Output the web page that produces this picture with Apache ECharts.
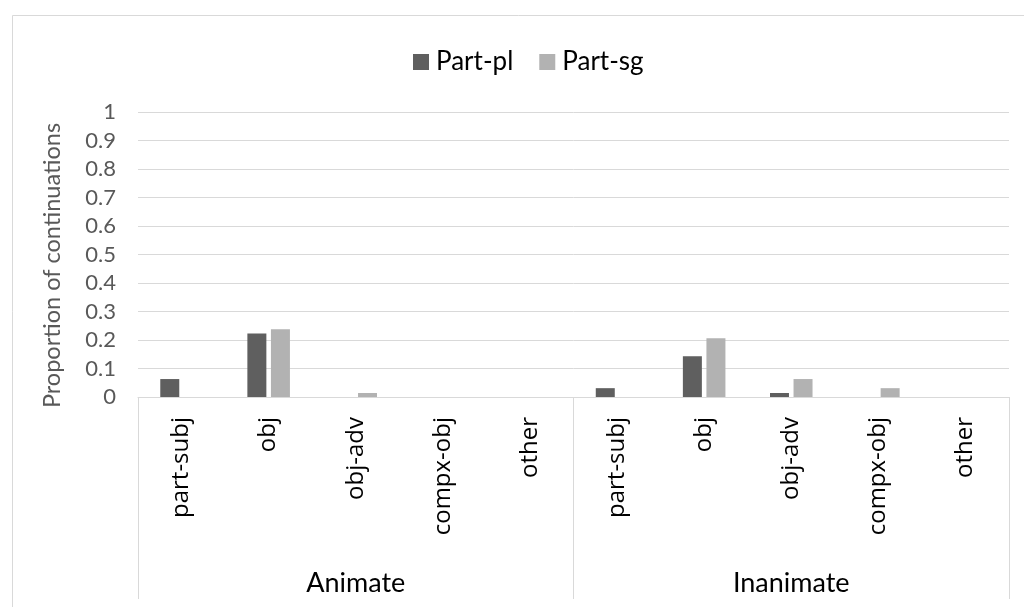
<!DOCTYPE html>
<html>
<head>
<meta charset="utf-8">
<script src="https://cdn.jsdelivr.net/npm/echarts@6/dist/echarts.min.js"></script>
<style>
html,body{margin:0;padding:0;background:#fff;}
#c{width:1024px;height:607px;}
</style>
</head>
<body>
<div id="c"></div>
<script>
const subCategories = ['part-subj','obj','obj-adv','compx-obj','other','part-subj','obj','obj-adv','compx-obj','other'];
const groups = ['Animate','Inanimate'];
const partPl = [0.063, 0.223, 0, 0, 0, 0.031, 0.143, 0.014, 0, 0];
const partSg = [0, 0.238, 0.014, 0, 0, 0, 0.206, 0.063, 0.031, 0];
const seriesNames = ['Part-pl','Part-sg'];
const yTicks = {min:0, max:1, interval:0.1};

const calibri = 'Lato, "Open Sans", sans-serif';
const chart = echarts.init(document.getElementById('c'), null, {renderer:'canvas'});
chart.setOption({
  backgroundColor:'#fff',
  animation:false,
  graphic:[{type:'rect', shape:{x:12.5,y:15.5,width:1020,height:620}, style:{fill:'none',stroke:'#d9d9d9',lineWidth:1}, silent:true}],
  legend:{
    top:44, left:408,
    icon:'rect', itemWidth:16, itemHeight:16, itemGap:26,
    textStyle:{fontFamily:calibri, fontSize:26, color:'#000', padding:[0,0,0,2]},
    data:seriesNames
  },
  grid:{left:138, right:15, top:112, bottom:210, containLabel:false},
  xAxis:[
    {type:'category', data:subCategories, position:'bottom',
     axisLine:{show:true, lineStyle:{color:'#d9d9d9', width:1}},
     axisTick:{show:false},
     axisLabel:{rotate:90, margin:20, interval:0, fontFamily:'"Open Sans", sans-serif', fontSize:24, color:'#000'},
     splitLine:{show:false}},
    {type:'category', data:groups, position:'bottom',
     axisLine:{show:false},
     axisTick:{show:true, length:202, interval:0, lineStyle:{color:'#d9d9d9', width:1}},
     axisLabel:{margin:186, interval:0, fontFamily:calibri, fontSize:27, color:'#000', verticalAlign:'middle'},
     splitLine:{show:false}}
  ],
  yAxis:{type:'value', min:yTicks.min, max:yTicks.max, interval:yTicks.interval,
    name:'Proportion of continuations', nameLocation:'middle', nameRotate:90, nameGap:74,
    nameTextStyle:{fontFamily:calibri, fontSize:23.5, color:'#595959', padding:[0,22,0,0]},
    axisLine:{show:false}, axisTick:{show:false},
    axisLabel:{margin:22, fontFamily:calibri, fontSize:22, color:'#595959'},
    splitLine:{lineStyle:{color:'#d9d9d9', width:1}}},
  series:[
    {name:seriesNames[0], type:'bar', data:partPl, barWidth:19, barGap:'24%', xAxisIndex:0,
     itemStyle:{color:'#5f5f5f'}},
    {name:seriesNames[1], type:'bar', data:partSg, barWidth:19, barGap:'24%', xAxisIndex:0,
     itemStyle:{color:'#b2b2b2'}}
  ]
});
</script>
</body>
</html>
